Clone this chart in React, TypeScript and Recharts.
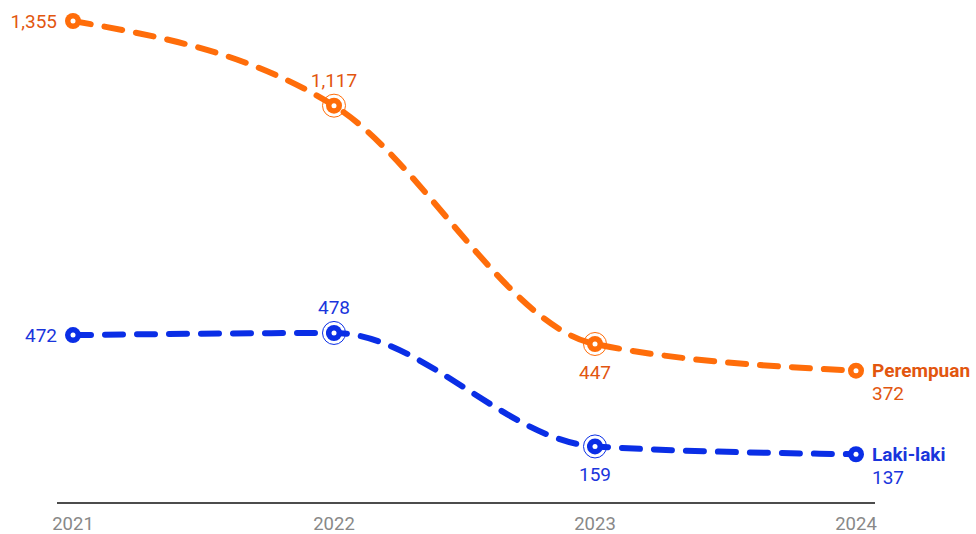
import React from 'react';
import { LineChart, Line, XAxis, YAxis, LabelList } from 'recharts';

const years = ['2021', '2022', '2023', '2024'];
const perempuan = [1355, 1117, 447, 372];
const lakiLaki = [472, 478, 159, 137];

const data = years.map((year, i) => ({ year, perempuan: perempuan[i], laki: lakiLaki[i] }));

const ORANGE = '#ff6d0a';
const ORANGE_TEXT = '#e2560f';
const BLUE = '#0a2ee6';
const BLUE_TEXT = '#1a35dc';

// label placement per point: [dx, dy, anchor]
const orangePlace: [number, number, string][] = [
  [-16, 0, 'end'],
  [0, -25, 'middle'],
  [0, 29, 'middle'],
  [16, 23, 'start'],
];
const bluePlace: [number, number, string][] = [
  [-16, 0, 'end'],
  [0, -25, 'middle'],
  [0, 28, 'middle'],
  [16, 23, 'start'],
];

function makeDot(color: string) {
  return (props: any) => {
    const { cx, cy, index } = props;
    if (cx == null || cy == null) return <g key={index} />;
    const ring = index === 1 || index === 2;
    return (
      <g key={index}>
        {ring && <circle cx={cx} cy={cy} r={11.5} fill="none" stroke={color} strokeWidth={1} />}
        <circle cx={cx} cy={cy} r={8} fill={color} />
        <circle cx={cx} cy={cy} r={2.5} fill="#fff" />
      </g>
    );
  };
}

function makeLabel(color: string, place: [number, number, string][], name: string) {
  return (props: any) => {
    const { x, y, value, index } = props;
    const [dx, dy, anchor] = place[index];
    const txt = Number(value).toLocaleString('en-US');
    return (
      <g key={index}>
        <text x={x + dx} y={y + dy} textAnchor={anchor as any} dominantBaseline="central"
          fill={color} fontSize={19} fontFamily="Roboto">
          {txt}
        </text>
        {index === place.length - 1 && (
          <text x={x + 16} y={y} textAnchor="start" dominantBaseline="central"
            fill={color} fontSize={19} fontWeight={700} fontFamily="Roboto">
            {name}
          </text>
        )}
      </g>
    );
  };
}

export default function App() {
  return (
    <div style={{ position: 'absolute', left: 0, top: 0, background: '#fff' }}>
      <LineChart width={976} height={534} data={data}
        margin={{ top: 5, right: 101, bottom: 0, left: 57 }}>
        <XAxis
          dataKey="year"
          padding={{ left: 16, right: 19 }}
          axisLine={{ stroke: '#111', strokeWidth: 1.5 }}
          tickLine={false}
          height={31}
          tickMargin={8}
          tick={{ fill: '#888', fontSize: 18.5, fontFamily: 'Roboto' }}
        />
        <YAxis hide domain={[0, 1400]} />
        <Line
          type="monotone"
          dataKey="perempuan"
          stroke={ORANGE}
          strokeWidth={6}
          strokeDasharray="18 14"
          strokeLinecap="round"
          dot={makeDot(ORANGE)}
          activeDot={false}
          isAnimationActive={false}
        >
          <LabelList dataKey="perempuan" content={makeLabel(ORANGE_TEXT, orangePlace, 'Perempuan')} />
        </Line>
        <Line
          type="monotone"
          dataKey="laki"
          stroke={BLUE}
          strokeWidth={6}
          strokeDasharray="18 14"
          strokeLinecap="round"
          dot={makeDot(BLUE)}
          activeDot={false}
          isAnimationActive={false}
        >
          <LabelList dataKey="laki" content={makeLabel(BLUE_TEXT, bluePlace, 'Laki-laki')} />
        </Line>
      </LineChart>
    </div>
  );
}
